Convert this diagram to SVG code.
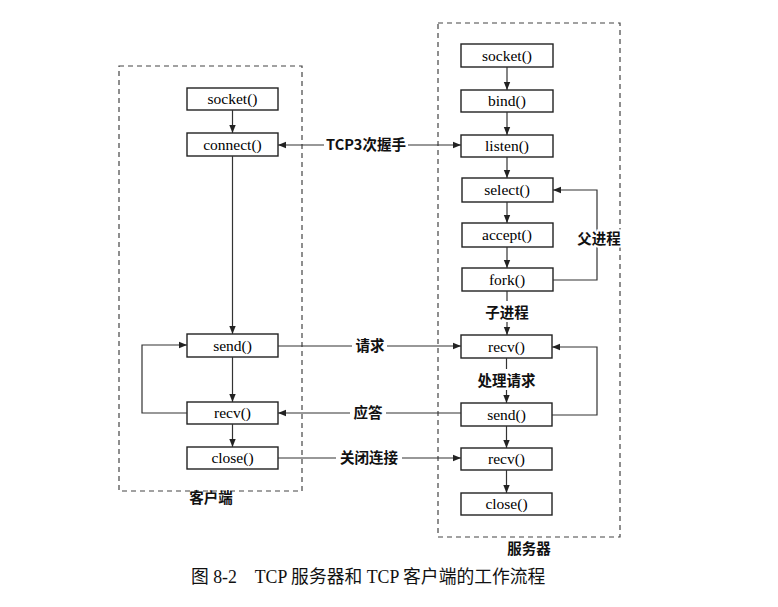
<svg xmlns="http://www.w3.org/2000/svg" width="778" height="607" viewBox="0 0 778 607">
<defs>
<marker id="ah" viewBox="0 0 10 10" refX="10" refY="5" markerWidth="8" markerHeight="8" markerUnits="userSpaceOnUse" orient="auto-start-reverse">
<path d="M0,1 L10,5 L0,9 Z" fill="#222"/>
</marker>
<style>
.box{fill:#fff;stroke:#222;stroke-width:1.4}
.frame{fill:none;stroke:#444;stroke-width:1.2;stroke-dasharray:5,4}
.lbl{font-family:"Liberation Serif","Times New Roman",serif;font-size:15.5px;fill:#000;text-anchor:middle}
.cn{font-family:"Noto Sans CJK SC","Noto Sans",sans-serif;font-size:14.5px;font-weight:bold;fill:#111;text-anchor:middle}
.ln{fill:none;stroke:#333;stroke-width:1.2}
.cap{font-family:"Liberation Serif","Noto Sans CJK SC",serif;font-size:17.8px;fill:#111}
</style>
</defs>
<rect width="778" height="607" fill="#fff"/>
<g id="client-frame"><rect class="frame" x="119" y="66" width="183" height="425"/><text class="cn" x="211" y="503">客户端</text></g>
<g id="server-frame"><rect class="frame" x="438" y="23" width="182" height="514"/><text class="cn" x="529" y="554">服务器</text></g>

<g id="c-socket"><rect class="box" x="187" y="88" width="91" height="22"/><text class="lbl" x="232.5" y="104">socket()</text></g>
<g id="c-connect"><rect class="box" x="187" y="133" width="91" height="23"/><text class="lbl" x="232.5" y="150">connect()</text></g>
<g id="c-send"><rect class="box" x="187" y="334" width="91" height="23"/><text class="lbl" x="232.5" y="351">send()</text></g>
<g id="c-recv"><rect class="box" x="187" y="402" width="91" height="22"/><text class="lbl" x="232.5" y="418">recv()</text></g>
<g id="c-close"><rect class="box" x="187" y="447" width="91" height="22"/><text class="lbl" x="232.5" y="463">close()</text></g>

<g id="s-socket"><rect class="box" x="461" y="44" width="92" height="23"/><text class="lbl" x="507" y="61">socket()</text></g>
<g id="s-bind"><rect class="box" x="461" y="90" width="92" height="22"/><text class="lbl" x="507" y="106">bind()</text></g>
<g id="s-listen"><rect class="box" x="461" y="135" width="92" height="22"/><text class="lbl" x="507" y="151">listen()</text></g>
<g id="s-select"><rect class="box" x="462" y="178" width="91" height="24"/><text class="lbl" x="507" y="195">select()</text></g>
<g id="s-accept"><rect class="box" x="462" y="223" width="91" height="24"/><text class="lbl" x="507" y="240">accept()</text></g>
<g id="s-fork"><rect class="box" x="462" y="268" width="91" height="23"/><text class="lbl" x="507" y="285">fork()</text></g>
<g id="s-recv"><rect class="box" x="461" y="335" width="91" height="23"/><text class="lbl" x="506.5" y="352">recv()</text></g>
<g id="s-send"><rect class="box" x="461" y="403" width="91" height="23"/><text class="lbl" x="506.5" y="420">send()</text></g>
<g id="s-recv2"><rect class="box" x="461" y="448" width="91" height="22"/><text class="lbl" x="506.5" y="464">recv()</text></g>
<g id="s-close"><rect class="box" x="461" y="493" width="91" height="22"/><text class="lbl" x="506.5" y="509">close()</text></g>

<g id="connectors">
<line class="ln" x1="232.5" y1="110" x2="232.5" y2="133" marker-end="url(#ah)"/>
<line class="ln" x1="232.5" y1="156" x2="232.5" y2="334" marker-end="url(#ah)"/>
<line class="ln" x1="232.5" y1="357" x2="232.5" y2="402" marker-end="url(#ah)"/>
<line class="ln" x1="232.5" y1="424" x2="232.5" y2="447" marker-end="url(#ah)"/>
<polyline class="ln" points="187,413 142,413 142,345 187,345" marker-end="url(#ah)"/>

<line class="ln" x1="507" y1="67" x2="507" y2="90" marker-end="url(#ah)"/>
<line class="ln" x1="507" y1="112" x2="507" y2="135" marker-end="url(#ah)"/>
<line class="ln" x1="507" y1="157" x2="507" y2="178" marker-end="url(#ah)"/>
<line class="ln" x1="507" y1="202" x2="507" y2="223" marker-end="url(#ah)"/>
<line class="ln" x1="507" y1="247" x2="507" y2="268" marker-end="url(#ah)"/>
<line class="ln" x1="507" y1="291" x2="507" y2="301"/>
<line class="ln" x1="507" y1="322" x2="507" y2="335" marker-end="url(#ah)"/>
<text class="cn" x="507" y="318">子进程</text>
<polyline class="ln" points="553,280 597,280 597,190 553,190" marker-end="url(#ah)"/>
<text class="cn" x="599" y="244" style="fill:#111;paint-order:stroke;stroke:#fff;stroke-width:4px">父进程</text>
<line class="ln" x1="506.5" y1="358" x2="506.5" y2="369"/>
<line class="ln" x1="506.5" y1="390" x2="506.5" y2="403" marker-end="url(#ah)"/>
<text class="cn" x="506.5" y="386">处理请求</text>
<polyline class="ln" points="552,415 597,415 597,347 552,347" marker-end="url(#ah)"/>
<line class="ln" x1="506.5" y1="426" x2="506.5" y2="448" marker-end="url(#ah)"/>
<line class="ln" x1="506.5" y1="470" x2="506.5" y2="493" marker-end="url(#ah)"/>

<line class="ln" x1="278" y1="145" x2="324" y2="145" marker-start="url(#ah)"/>
<line class="ln" x1="408" y1="145" x2="461" y2="145" marker-end="url(#ah)"/>
<text class="cn" x="366" y="150">TCP3次握手</text>
<line class="ln" x1="278" y1="346" x2="352" y2="346"/>
<line class="ln" x1="387" y1="346" x2="461" y2="346" marker-end="url(#ah)"/>
<text class="cn" x="370" y="351">请求</text>
<line class="ln" x1="278" y1="413" x2="350" y2="413" marker-start="url(#ah)"/>
<line class="ln" x1="386" y1="413" x2="461" y2="413"/>
<text class="cn" x="368" y="418">应答</text>
<line class="ln" x1="278" y1="458" x2="336" y2="458"/>
<line class="ln" x1="402" y1="458" x2="461" y2="458" marker-end="url(#ah)"/>
<text class="cn" x="369" y="463">关闭连接</text>
</g>
<text class="cap" x="191" y="583" xml:space="preserve">图 8-2    TCP 服务器和 TCP 客户端的工作流程</text>
</svg>
